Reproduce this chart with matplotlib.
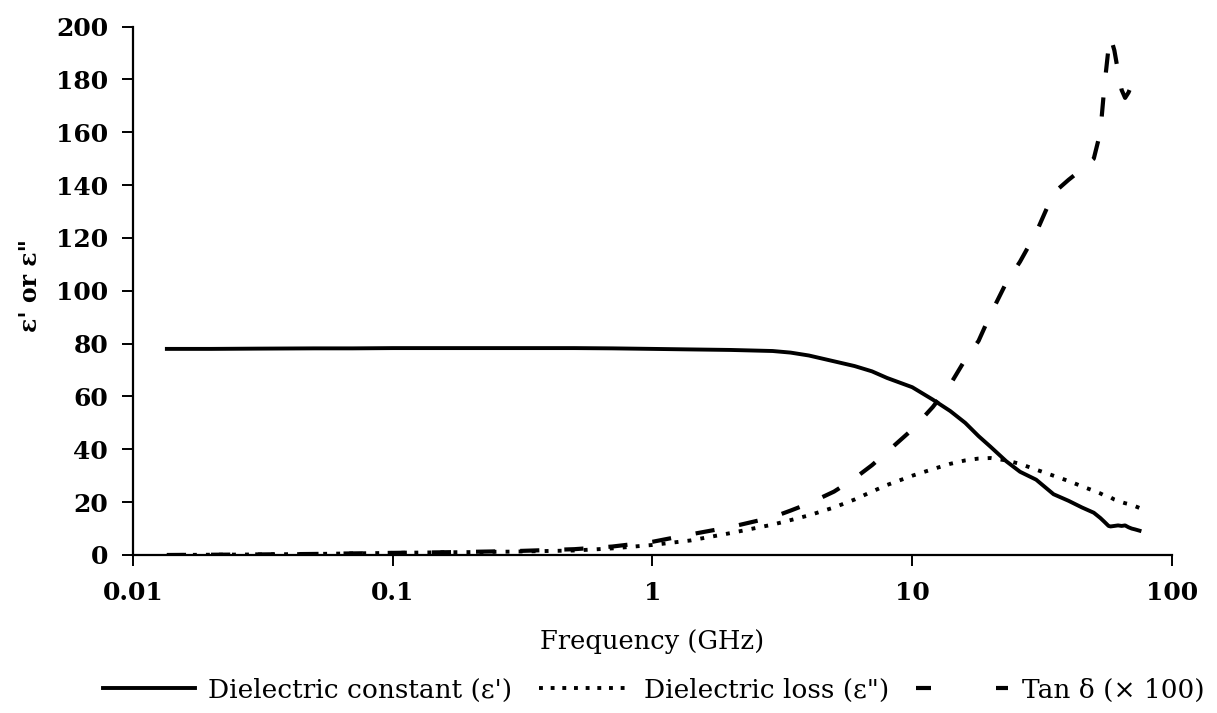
import matplotlib
matplotlib.use('Agg')
import matplotlib.pyplot as plt
from matplotlib.lines import Line2D

plt.rcParams['font.family'] = 'DejaVu Serif'

# Frequency grid (GHz)
freq = [0.0135, 0.02, 0.03, 0.05, 0.07, 0.1, 0.15, 0.2, 0.3, 0.5, 0.7, 1.0,
        1.4, 2.0, 2.9, 3.4, 4.0, 5.0, 6.0, 7.0, 8.0, 10, 12, 14, 16, 18, 20, 23,
        26, 30, 35, 40, 45, 50, 53, 55, 57, 58, 60, 62, 64, 66, 68, 70, 72, 75]

# Dielectric constant (e')
eps_real = [78.0, 78.0, 78.1, 78.2, 78.2, 78.3, 78.3, 78.3, 78.3, 78.3, 78.2, 78.0,
            77.8, 77.6, 77.2, 76.6, 75.5, 73.3, 71.5, 69.5, 67.0, 63.5, 58.8, 54.5, 50.0,
            45.0, 41.0, 35.5, 31.5, 28.5, 23.0, 20.5, 18.0, 16.0, 14.0, 12.5, 11.0,
            10.8, 11.0, 11.2, 11.0, 11.2, 10.5, 10.0, 9.7, 9.2]

# Dielectric loss (e'')
eps_imag = [0.0, 0.1, 0.2, 0.4, 0.6, 0.8, 1.0, 1.1, 1.3, 1.7, 2.5, 3.8,
            5.5, 8.3, 11.5, 13.2, 15.0, 18.0, 21.0, 24.0, 26.5, 30.0, 32.5, 34.5, 35.8,
            36.5, 36.7, 35.8, 34.5, 32.3, 30.0, 28.0, 26.0, 24.3, 23.3, 22.5, 22.0,
            21.8, 21.0, 20.5, 20.0, 19.6, 19.3, 19.0, 18.5, 17.8]

# Tan delta x 100
tan_delta = [0.0, 0.1, 0.2, 0.4, 0.6, 0.8, 1.0, 1.2, 1.5, 2.2, 3.2, 5.0,
             7.8, 10.6, 14.3, 16.8, 19.5, 24.0, 29.0, 34.0, 39.0, 47.5, 56.0, 64.5, 74.0,
             81.0, 91.0, 103.0, 111.0, 122.0, 137.0, 142.0, 146.0, 150.0, 160.0, 178.0, 192.0,
             196.0, 191.0, 183.0, 176.0, 173.0, 175.0, 178.0, 181.0, 184.0]

x_ticks = [0.01, 0.1, 1, 10, 100]
x_tick_labels = ['0.01', '0.1', '1', '10', '100']
y_ticks = list(range(0, 201, 20))

fig = plt.figure(figsize=(12.17, 7.13), dpi=100)
ax = fig.add_axes([0.1093, 0.2216, 0.8537, 0.7412])

ax.plot(freq, eps_real, color='black', lw=2.8, ls='-')
ax.plot(freq, eps_imag, color='black', lw=2.8, ls=(0, (1, 2.35)))
ax.plot(freq, tan_delta, color='black', lw=3.0, ls=(0, (4.6, 6.0)))

ax.set_xscale('log')
ax.set_xlim(0.01, 100)
ax.set_ylim(0, 200)
ax.set_xticks(x_ticks)
ax.set_xticklabels(x_tick_labels)
ax.minorticks_off()
ax.set_yticks(y_ticks)

for side in ['top', 'right']:
    ax.spines[side].set_visible(False)
for side in ['left', 'bottom']:
    ax.spines[side].set_linewidth(1.6)

ax.tick_params(axis='both', which='major', direction='out', length=8, width=1.4,
               labelsize=18)
ax.tick_params(axis='y', pad=10)
ax.tick_params(axis='x', pad=11)
for lbl in ax.get_xticklabels() + ax.get_yticklabels():
    lbl.set_fontweight('bold')

ax.set_xlabel('Frequency (GHz)', fontsize=18.5)
ax.xaxis.set_label_coords(0.5, -0.14)
ax.set_ylabel('\u03b5\' or \u03b5"', fontsize=17, fontweight='bold')
ax.yaxis.set_label_coords(-0.0876, 0.51)

# legend proxies (line patterns as drawn in the original legend)
h1 = Line2D([], [], color='black', lw=2.8, ls='-')
h2 = Line2D([], [], color='black', lw=2.8, ls=(0, (1, 2.0)))
h3 = Line2D([], [], color='black', lw=3.0, ls=(0, (3.6, 15.6)))
fig.legend([h1, h2, h3],
           ['Dielectric constant (\u03b5\')', 'Dielectric loss (\u03b5")',
            'Tan \u03b4 (\u00d7 100)'],
           loc='center', bbox_to_anchor=(0.537, 1 - 690 / 713), ncol=3,
           frameon=False, fontsize=19, handlelength=3.5, handletextpad=0.5,
           columnspacing=1.0)

fig.savefig('out.png', dpi=100)
